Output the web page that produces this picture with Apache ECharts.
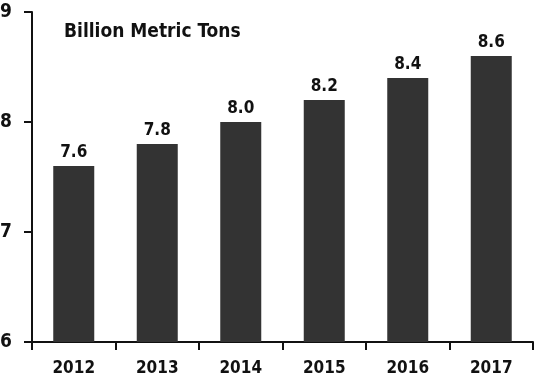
<!DOCTYPE html>
<html>
<head>
<meta charset="utf-8">
<script src="https://cdn.jsdelivr.net/npm/echarts@6/dist/echarts.min.js"></script>
<style>
	html, body { margin: 0; padding: 0; background: #fff; }
	#chart { width: 535px; height: 376px; }
</style>
</head>
<body>
<div id="chart"></div>
<script type="text/javascript">
	// 数据
	var years = ['2012', '2013', '2014', '2015', '2016', '2017'];
	var tons = [7.6, 7.8, 8.0, 8.2, 8.4, 8.6];
	var labels = ['7.6', '7.8', '8.0', '8.2', '8.4', '8.6'];

	var font = '"DejaVu Sans Condensed", "Liberation Sans", sans-serif';

	var myChart = echarts.init(document.getElementById('chart'));
	var option = {
		animation : false,
		title : {
			text : 'Billion Metric Tons',
			left : 59,
			top : 18,
			textStyle : {
				fontFamily : font,
				fontWeight : 'bold',
				fontSize : 19,
				color : '#111'
			}
		},
		grid : {
			left : 32,
			right : 2,
			top : 12,
			bottom : 34,
			outerBoundsMode : 'none'
		},
		xAxis : [ {
			type : 'category',
			data : years,
			axisLine : { lineStyle : { color : '#111', width : 2 } },
			axisTick : { show : true, length : 8, lineStyle : { color : '#111', width : 2 } },
			axisLabel : {
				margin : 18,
				fontFamily : font,
				fontWeight : 'bold',
				fontSize : 17,
				color : '#111'
			}
		} ],
		yAxis : [ {
			type : 'value',
			min : 6,
			max : 9,
			interval : 1,
			splitLine : { show : false },
			axisLine : { show : true, lineStyle : { color : '#111', width : 2 } },
			axisTick : { show : true, length : 8, lineStyle : { color : '#111', width : 2 } },
			axisLabel : {
				margin : 20,
				fontFamily : font,
				fontWeight : 'bold',
				fontSize : 19,
				color : '#111'
			}
		} ],
		series : [ {
			type : 'bar',
			data : tons,
			barWidth : 41,
			itemStyle : { color : '#333333' },
			label : {
				show : true,
				position : 'top',
				distance : 5,
				formatter : function (p) { return labels[p.dataIndex]; },
				fontFamily : font,
				fontWeight : 'bold',
				fontSize : 17,
				color : '#111'
			}
		} ]
	};
	myChart.setOption(option);
</script>
</body>
</html>
